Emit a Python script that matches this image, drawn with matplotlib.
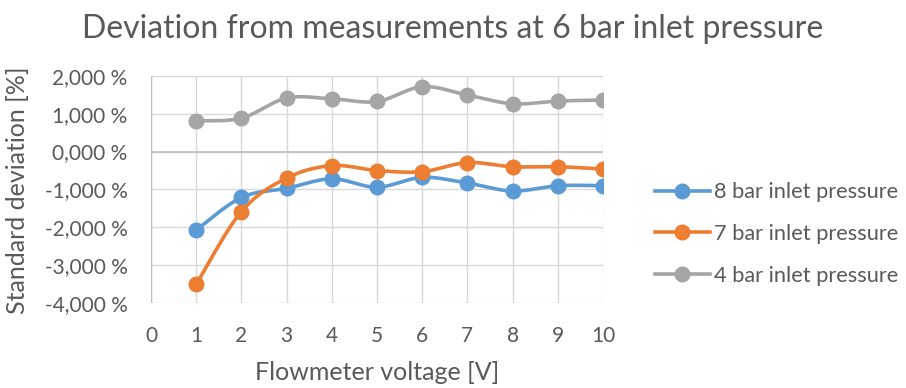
import numpy as np
import matplotlib
matplotlib.use("Agg")
import matplotlib.pyplot as plt
from matplotlib.ticker import FuncFormatter
from matplotlib.lines import Line2D

voltage = [1, 2, 3, 4, 5, 6, 7, 8, 9, 10]
dev_8bar = [-2.07, -1.21, -0.97, -0.72, -0.94, -0.68, -0.83, -1.04, -0.90, -0.90]
dev_7bar = [-3.50, -1.58, -0.70, -0.37, -0.50, -0.53, -0.29, -0.40, -0.40, -0.46]
dev_4bar = [0.81, 0.88, 1.41, 1.39, 1.32, 1.71, 1.49, 1.26, 1.33, 1.36]

series = [
    ("8 bar inlet pressure", dev_8bar, "#5B9BD5"),
    ("7 bar inlet pressure", dev_7bar, "#ED7D31"),
    ("4 bar inlet pressure", dev_4bar, "#A5A5A5"),
]

FONT = ["Lato", "DejaVu Sans"]
TXT = "#595959"


def smooth(x, y, n=30):
    """Piecewise cubic Bezier through the points (Catmull-Rom style tangents)."""
    x = np.asarray(x, float)
    y = np.asarray(y, float)
    pts = np.column_stack([x, y])
    out = []
    for i in range(len(pts) - 1):
        p0 = pts[i - 1] if i > 0 else pts[i]
        p1 = pts[i]
        p2 = pts[i + 1]
        p3 = pts[i + 2] if i + 2 < len(pts) else pts[i + 1]
        c1 = p1 + (p2 - p0) / 6.0
        c2 = p2 - (p3 - p1) / 6.0
        t = np.linspace(0, 1, n)[:, None]
        seg = ((1 - t) ** 3) * p1 + 3 * ((1 - t) ** 2) * t * c1 + 3 * (1 - t) * t ** 2 * c2 + t ** 3 * p2
        out.append(seg if i == 0 else seg[1:])
    s = np.vstack(out)
    return s[:, 0], s[:, 1]


fig = plt.figure(figsize=(9.06, 3.88), dpi=100)
ax = fig.add_axes([0.1667, 0.2183, 0.6656 - 0.1667, 0.8049 - 0.2183])

ax.set_xlim(0, 10)
ax.set_ylim(-4, 2)
ax.set_xticks(range(0, 11))
ax.set_yticks(range(-4, 3))
ax.grid(True, color="#D9D9D9", linewidth=1.0)
ax.set_axisbelow(True)
for sp in ax.spines.values():
    sp.set_visible(False)
ax.axhline(0, color="#BFBFBF", linewidth=1.2, zorder=1)
ax.axvline(0, color="#BFBFBF", linewidth=1.0, zorder=1)
ax.tick_params(length=0, labelsize=15, colors=TXT)
ax.tick_params(axis="y", pad=17)
ax.tick_params(axis="x", pad=16)
ax.yaxis.set_major_formatter(FuncFormatter(lambda v, p: f"{v:,.3f} %".replace(".", ",")))
for lab in ax.get_xticklabels() + ax.get_yticklabels():
    lab.set_family(FONT)

handles = []
for name, vals, col in series:
    sx, sy = smooth(voltage, vals)
    ax.plot(sx, sy, color=col, linewidth=2.6, zorder=3, solid_capstyle="round")
    ax.plot(voltage, vals, linestyle="none", marker="o", markersize=10.5,
            color=col, zorder=4)
    handles.append(Line2D([], [], color=col, linewidth=2.6, marker="o", markersize=10.5, label=name))

fig.text(377 / 906, 1 - 372 / 388, "Flowmeter voltage [V]", fontsize=18, color=TXT,
         family=FONT, ha="center", va="center")
fig.text(18 / 906, 1 - 190 / 388, "Standard deviation [%]", fontsize=18, color=TXT,
         family=FONT, ha="center", va="center", rotation=90)
fig.text(0.5, 1 - 29 / 388, "Deviation from measurements at 6 bar inlet pressure",
         fontsize=23, color=TXT, family=FONT, ha="center", va="center")

leg = fig.legend(handles=handles, loc="center left", bbox_to_anchor=(655 / 906, 1 - 234 / 388),
                 frameon=False, fontsize=15.7, handlelength=2.5, labelspacing=1.0,
                 handletextpad=0.2, borderpad=0, borderaxespad=0)
for t in leg.get_texts():
    t.set_color(TXT)
    t.set_family(FONT)

fig.savefig("out.png", dpi=100)
